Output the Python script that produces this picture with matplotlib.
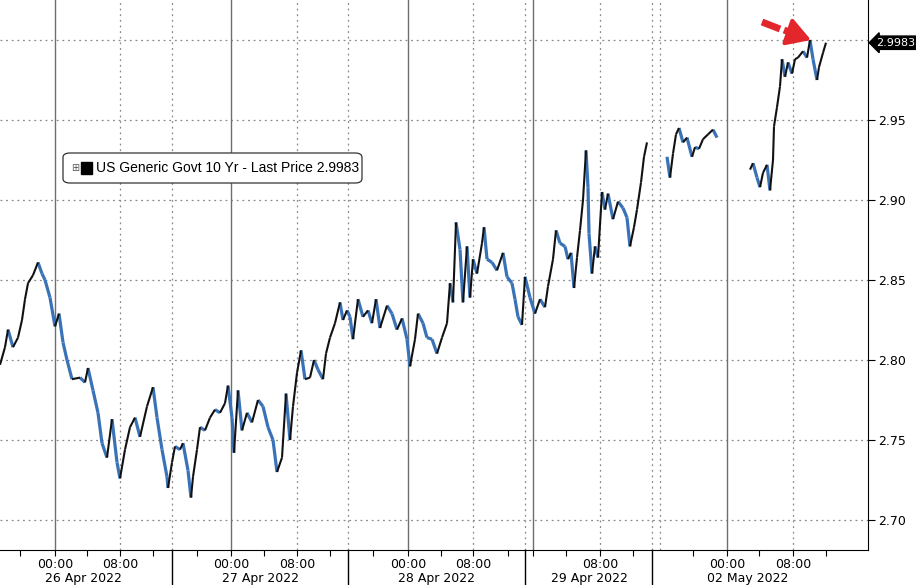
# US 10Y generic yield, intraday, 26 Apr - 02 May 2022 (Bloomberg style)

import numpy as np
import matplotlib.pyplot as plt
from matplotlib.collections import LineCollection
from matplotlib.patches import FancyBboxPatch, Rectangle
from matplotlib.transforms import blended_transform_factory

# x = bar index on the compressed session axis (one bar ~ 7.4 min)
# session 26 Apr -> 29 Apr
barsA = [0, 5, 8, 13, 18, 22, 25, 28, 33, 38, 42, 45, 50, 55, 59, 63, 67, 72, 80, 85,
         88, 93, 98, 102, 107, 112, 117, 120, 125, 130, 135, 140, 147, 153, 157, 162, 167, 168,
         172, 175, 180, 183, 188, 191, 193, 197, 200, 205, 210, 215, 220, 225, 228, 232,
         234, 238, 242, 247, 252, 258, 263, 268, 273, 277, 282, 286, 290, 293, 297, 301,
         305, 310, 314, 318, 323, 326, 330, 335, 340, 343, 347,
         350, 353, 358, 363, 368, 372, 376, 380, 387, 392, 397, 402, 407, 410, 415, 418,
         423, 427, 432, 437, 442, 447, 450, 453, 456, 460, 463, 467, 470, 473, 477, 482,
         484, 487, 492, 497, 503, 507, 512, 515, 518, 522,
         525, 530, 535, 540, 545, 548, 553, 556, 560, 565, 568, 571, 574, 577, 580, 583,
         586, 588, 589, 592, 595, 598, 602, 605, 608, 613, 618, 623, 627, 630, 634, 637,
         641, 644, 647]
yldA = [2.797, 2.808, 2.819, 2.808, 2.814, 2.825, 2.838, 2.848, 2.853, 2.861, 2.854, 2.850,
        2.839, 2.821, 2.829, 2.811, 2.800, 2.788, 2.789, 2.786, 2.795, 2.781, 2.767, 2.748,
        2.739, 2.763, 2.736, 2.726, 2.744, 2.758, 2.764, 2.752, 2.771, 2.783, 2.764, 2.744,
        2.727, 2.720,
        2.736, 2.746, 2.744, 2.748, 2.731, 2.714, 2.727, 2.744, 2.758, 2.756, 2.764, 2.769,
        2.767, 2.773, 2.784, 2.764, 2.742, 2.781, 2.756, 2.767, 2.761, 2.775, 2.771, 2.758,
        2.750, 2.730, 2.739, 2.779, 2.750, 2.771, 2.792, 2.806, 2.788, 2.789, 2.800, 2.794,
        2.788, 2.804, 2.814, 2.823, 2.836, 2.825, 2.831,
        2.827, 2.813, 2.838, 2.827, 2.831, 2.823, 2.838, 2.820, 2.834, 2.829, 2.819, 2.826,
        2.813, 2.796, 2.813, 2.829, 2.823, 2.814, 2.813, 2.804, 2.814, 2.823, 2.848, 2.836,
        2.886, 2.869, 2.836, 2.871, 2.839, 2.863, 2.854, 2.873, 2.883, 2.863, 2.861, 2.856,
        2.867, 2.852, 2.848, 2.838, 2.827, 2.822,
        2.852, 2.839, 2.829, 2.838, 2.833, 2.846, 2.863, 2.881, 2.873, 2.871, 2.863, 2.867,
        2.845, 2.864, 2.881, 2.900, 2.931, 2.908, 2.879, 2.854, 2.871, 2.864, 2.905, 2.894,
        2.904, 2.888, 2.899, 2.895, 2.889, 2.871, 2.883, 2.894, 2.911, 2.927, 2.936]
# Sunday evening session
barsB = [667, 670, 673, 676, 679, 683, 687, 692, 695, 699, 703, 708, 713, 717]
yldB = [2.927, 2.914, 2.929, 2.941, 2.945, 2.936, 2.939, 2.927, 2.933, 2.932, 2.938, 2.941,
        2.944, 2.939]
# 02 May
barsC = [750, 753, 757, 760, 763, 767, 770, 773, 774, 777, 780, 782, 785, 788, 792, 795,
         798, 803, 807, 810, 813, 817, 819, 823, 826]
yldC = [2.919, 2.923, 2.914, 2.908, 2.917, 2.922, 2.906, 2.925, 2.946, 2.958, 2.971, 2.988,
        2.977, 2.986, 2.979, 2.988, 2.989, 2.993, 2.989, 3.000, 2.988, 2.975, 2.983, 2.992,
        2.9983]
last_price = 2.9983

tick_bars = [20, 55, 87, 120, 153, 197, 231, 264, 297, 330, 373, 408, 441, 473, 508,
             533, 566, 600, 633, 693, 727, 759, 793, 826]
tick_labels = ['', '00:00', '', '08:00', '', '', '00:00', '', '08:00', '', '', '00:00', '',
               '08:00', '', '', '', '08:00', '', '', '00:00', '', '08:00', '']
midnight_bars = [55, 231, 408, 533, 727]
morning_bars = [120, 297, 473, 600, 793]
break_bars = [172, 348, 525, 652]
weekend_bar = 660
day_labels = ['26 Apr 2022', '27 Apr 2022', '28 Apr 2022', '29 Apr 2022', '02 May 2022']
day_centres = [83, 260, 437, 589, 748]
y_levels = [2.70, 2.75, 2.80, 2.85, 2.90, 2.95, 3.00]

UP = '#111111'
DOWN = '#3a72b8'
GRID = '#8a8a8a'
RED = '#e3262b'

plt.rcParams['font.family'] = ['DejaVu Sans']

fig = plt.figure(figsize=(9.16, 5.85), dpi=100)
ax = fig.add_axes([0, 35/585, 868/916, 550/585])
ax.set_xlim(0, 868)
ax.set_ylim(3.025 - 550/1600, 3.025)

# grid
for lv in y_levels:
    ax.axhline(lv, color=GRID, lw=0.9, ls=(0, (1.5, 3)), zorder=1)
for b in midnight_bars:
    ax.axvline(b, color='#6e6e6e', lw=1.0, zorder=1)
for b in morning_bars + break_bars + [weekend_bar]:
    ax.axvline(b, color=GRID, lw=0.9, ls=(0, (1.5, 3)), zorder=1)


def draw_price(x, y):
    pts = np.column_stack([x, y])
    segs = np.stack([pts[:-1], pts[1:]], axis=1)
    up = np.diff(y) >= 0
    ax.add_collection(LineCollection(segs[~up], colors=DOWN, linewidths=2.3,
                                     capstyle='butt', zorder=3))
    ax.add_collection(LineCollection(segs[up], colors=UP, linewidths=1.5,
                                     capstyle='butt', zorder=4))


draw_price(barsA, yldA)
draw_price(barsB, yldB)
draw_price(barsC, yldC)

# axes
for s in ['top', 'left']:
    ax.spines[s].set_visible(False)
ax.spines['right'].set_color('black')
ax.spines['bottom'].set_color('black')
ax.yaxis.tick_right()
ax.set_yticks(y_levels[:-1], ['%.2f' % v for v in y_levels[:-1]])
ax.tick_params(axis='y', direction='out', length=5, pad=2, labelsize=9)
ax.set_xticks(tick_bars, tick_labels)
ax.tick_params(axis='x', direction='out', length=4, pad=2, labelsize=9)

trans = blended_transform_factory(ax.transData, ax.transAxes)
for c, lab in zip(day_centres, day_labels):
    ax.text(c, -0.051, lab, transform=trans, ha='center', va='center', fontsize=9)
for b in break_bars:
    ax.plot([b, b], [0, -0.07], transform=trans, color='black', lw=1.0, clip_on=False)

# last price tag
ax.annotate('%.4f' % last_price, xy=(1.0, last_price),
            xycoords=('axes fraction', 'data'), xytext=(6, 0), textcoords='offset points',
            ha='left', va='center', color='white', fontsize=8,
            bbox=dict(boxstyle='larrow,pad=0.15', fc='black', ec='black'),
            annotation_clip=False)

# legend box
ax.add_patch(FancyBboxPatch((63/868, 1 - 183/550), 299/868, 30/550,
                            boxstyle='round,pad=0,rounding_size=0.008',
                            transform=ax.transAxes, fc='white', ec='#333333', lw=0.9,
                            zorder=6))
ax.text(75/868, 1 - 168/550, '\u229e', transform=ax.transAxes, ha='center', va='center',
        fontsize=7, color='#555555', zorder=7)
ax.add_patch(Rectangle((81/868, 1 - 174/550), 11/868, 12/550, transform=ax.transAxes,
                       fc='black', ec='black', zorder=7))
ax.text(96/868, 1 - 168/550, 'US Generic Govt 10 Yr - Last Price 2.9983',
        transform=ax.transAxes, ha='left', va='center', fontsize=10,
        family='Liberation Sans', zorder=7)

# red dashed arrow to the high
ax.plot([762, 780], [3.025 - 22/1600, 3.025 - 29/1600], color=RED, lw=5,
        solid_capstyle='butt', zorder=8)
ax.plot([784, 794], [3.025 - 30/1600, 3.025 - 34/1600], color=RED, lw=5,
        solid_capstyle='butt', zorder=8)
ax.annotate('', xy=(811, 3.025 - 40/1600), xytext=(794, 3.025 - 34/1600),
            arrowprops=dict(arrowstyle='-|>,head_length=1.1,head_width=0.65',
                            color=RED, lw=3, mutation_scale=13, shrinkA=0,
                            shrinkB=0), zorder=8)

fig.savefig('out.png', dpi=100)
